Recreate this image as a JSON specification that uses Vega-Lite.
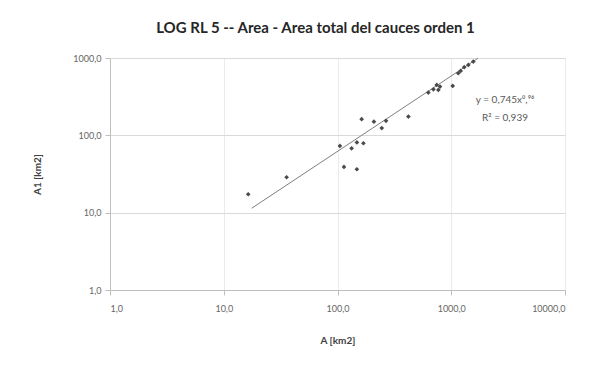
{
  "$schema": "https://vega.github.io/schema/vega-lite/v6.json",
  "width": 455,
  "height": 232,
  "autosize": "none",
  "padding": {"left": 110, "top": 58, "right": 33, "bottom": 76},
  "background": "white",
  "config": {
    "font": "Lato",
    "view": {"stroke": null},
    "locale": {"number": {"decimal": ",", "thousands": ".", "grouping": [3], "currency": ["", " €"]}},
    "axis": {
      "labelFont": "Lato",
      "labelFontSize": 9,
      "labelColor": "#666666",
      "titleFont": "Lato",
      "titleFontSize": 10,
      "titleFontWeight": "bold",
      "titleColor": "#404040",
      "gridColor": "#d9d9d9",
      "gridWidth": 1,
      "domainColor": "#bfbfbf",
      "tickColor": "#bfbfbf",
      "tickSize": 5
    }
  },
  "title": {
    "text": "LOG RL 5 -- Area - Area total del cauces orden 1",
    "font": "Lato",
    "fontSize": 15,
    "fontWeight": "bold",
    "color": "#262626",
    "anchor": "middle",
    "dx": -22,
    "offset": 18
  },
  "datasets": {
    "points": [
      {"A": 16.4, "A1": 17.3},
      {"A": 35.7, "A1": 28.7},
      {"A": 105, "A1": 73},
      {"A": 114, "A1": 39},
      {"A": 133, "A1": 68},
      {"A": 148, "A1": 36.4},
      {"A": 148, "A1": 81},
      {"A": 169, "A1": 79},
      {"A": 163, "A1": 162},
      {"A": 209, "A1": 150},
      {"A": 245, "A1": 124},
      {"A": 267, "A1": 154},
      {"A": 420, "A1": 175},
      {"A": 629, "A1": 357},
      {"A": 697, "A1": 394},
      {"A": 745, "A1": 449},
      {"A": 770, "A1": 387},
      {"A": 796, "A1": 427},
      {"A": 1030, "A1": 436},
      {"A": 1153, "A1": 635},
      {"A": 1210, "A1": 680},
      {"A": 1300, "A1": 760},
      {"A": 1413, "A1": 814},
      {"A": 1563, "A1": 898}
    ],
    "trend": [
      {"A": 17.6, "A1": 11.4},
      {"A": 1720, "A1": 994}
    ],
    "labels": [
      {"A": 2970, "A1": 287, "text": "y = 0,745x⁰,⁹⁶"},
      {"A": 2970, "A1": 168, "text": "R² = 0,939"}
    ]
  },
  "encoding": {
    "x": {
      "field": "A",
      "type": "quantitative",
      "scale": {"type": "log", "domain": [1, 10000], "nice": false},
      "axis": {
        "title": "A [km2]",
        "values": [1, 10, 100, 1000, 10000],
        "format": ".1f",
        "grid": true,
        "gridColor": "#ebebeb",
        "labelPadding": 9,
        "titlePadding": 22
      }
    },
    "y": {
      "field": "A1",
      "type": "quantitative",
      "scale": {"type": "log", "domain": [1, 1000], "nice": false},
      "axis": {
        "title": "A1 [km2]",
        "values": [1, 10, 100, 1000],
        "format": ".1f",
        "grid": true,
        "labelPadding": 4,
        "titleX": -73,
        "titleY": 116,
        "titleAlign": "center",
        "titleBaseline": "middle",
        "titleAngle": -90
      }
    }
  },
  "layer": [
    {
      "data": {"name": "trend"},
      "mark": {"type": "line", "color": "#7f7f7f", "strokeWidth": 1}
    },
    {
      "data": {"name": "points"},
      "mark": {"type": "point", "shape": "diamond", "filled": true, "size": 22, "color": "#4a4a4a", "opacity": 1}
    },
    {
      "data": {"name": "labels"},
      "mark": {"type": "text", "font": "Lato", "fontSize": 10, "color": "#595959", "align": "center", "baseline": "middle"},
      "encoding": {"text": {"field": "text"}}
    }
  ]
}
